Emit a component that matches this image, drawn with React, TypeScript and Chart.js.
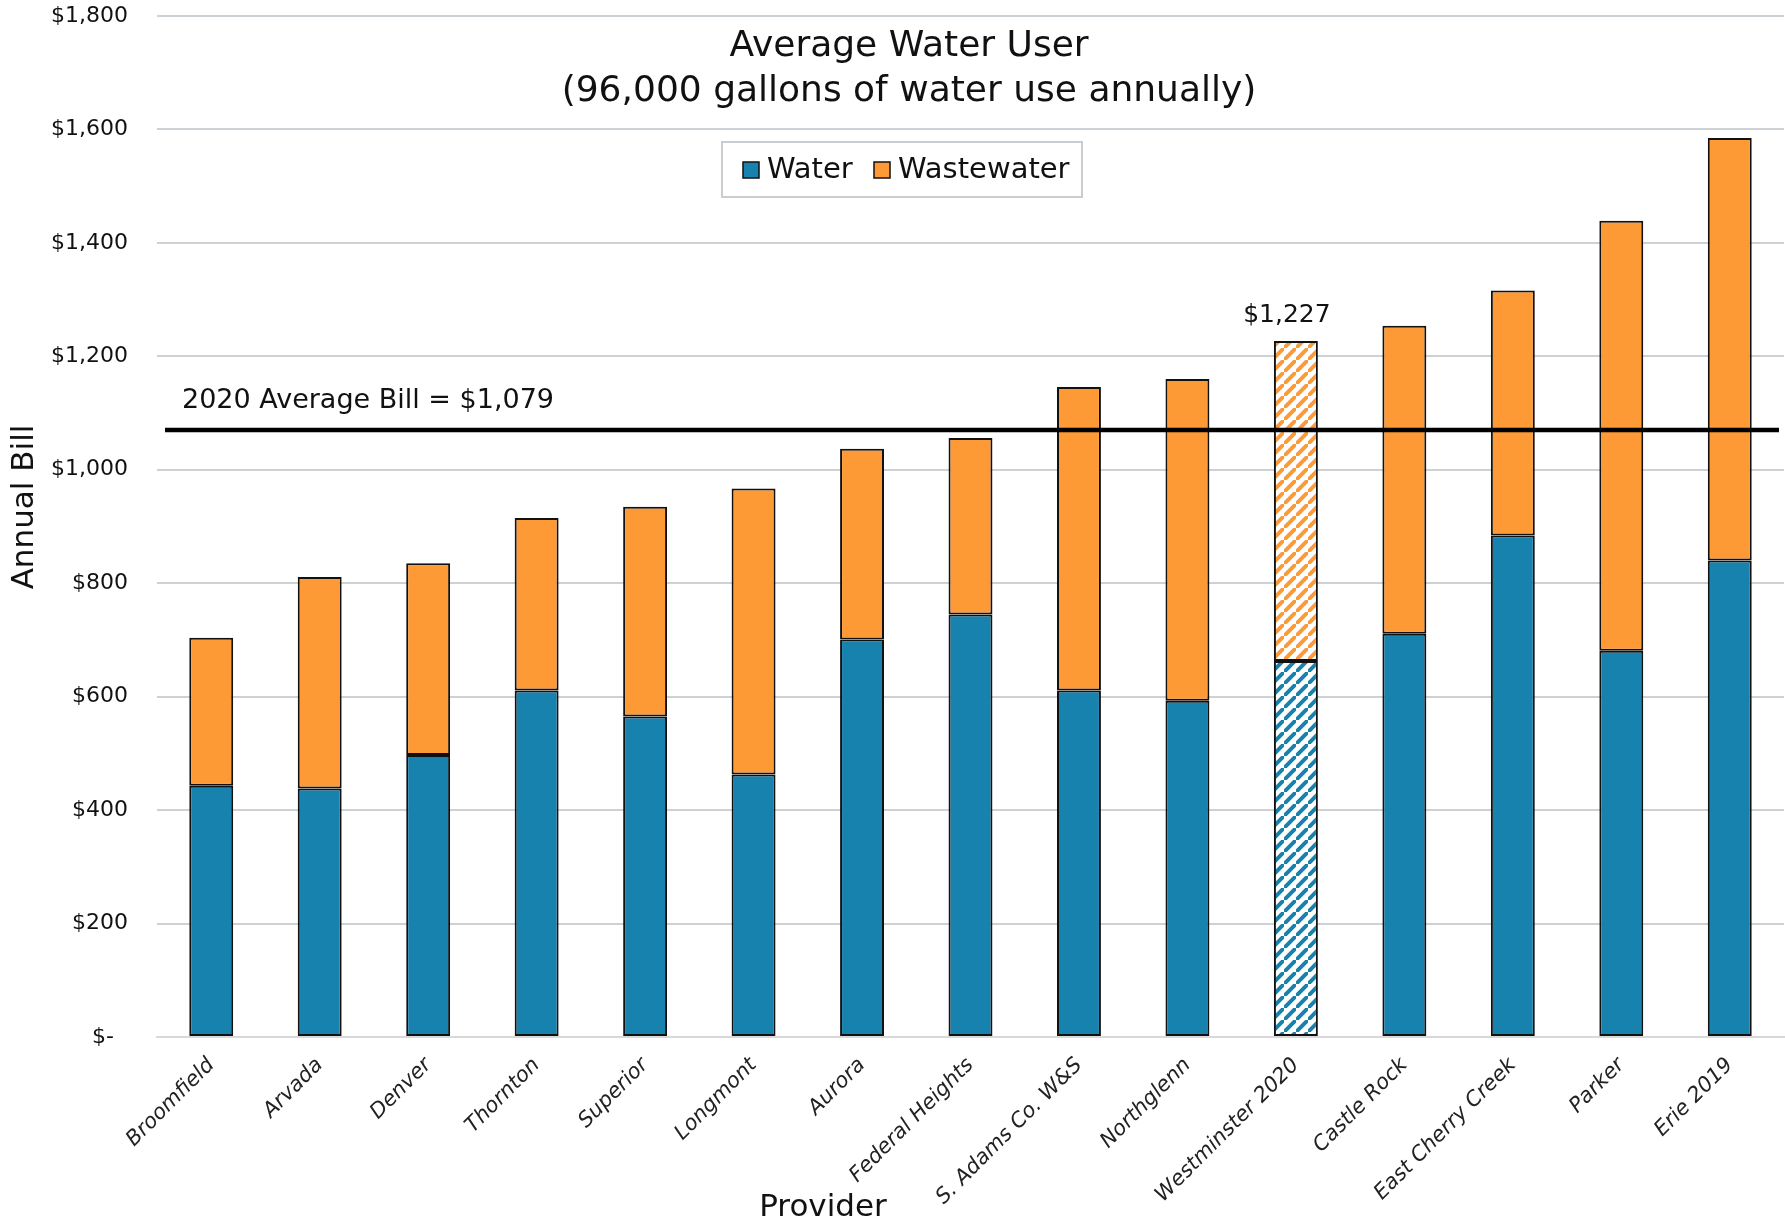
import React, { useEffect, useRef } from "react";
import { Chart, registerables } from "chart.js";

Chart.register(...registerables);

const providers = [
  "Broomfield", "Arvada", "Denver", "Thornton", "Superior", "Longmont", "Aurora",
  "Federal Heights", "S. Adams Co. W&S", "Northglenn", "Westminster 2020",
  "Castle Rock", "East Cherry Creek", "Parker", "Erie 2019",
];
const waterValues = [443, 438, 497, 611, 565, 463, 701, 745, 611, 593, 663, 711, 884, 681, 840];
const wastewaterValues = [261, 373, 338, 304, 370, 504, 336, 311, 535, 567, 564, 543, 432, 758, 745];
const seriesNames = ["Water", "Wastewater"];
const titleLines = ["Average Water User", "(96,000 gallons of water use annually)"];
const averageBillLabel = "2020 Average Bill = $1,079";
const averageLineValue = 1070;
const highlightIndex = 10;
const highlightLabel = "$1,227";
const yTickValues = [0, 200, 400, 600, 800, 1000, 1200, 1400, 1600, 1800];
const xTitle = "Provider";
const yTitle = "Annual Bill";

const BLUE = "#1882AE";
const ORANGE = "#FD9A35";
const FONT = "'DejaVu Sans', sans-serif";

function makeStripePattern(color: string): CanvasPattern | string {
  const size = 12;
  const c = document.createElement("canvas");
  c.width = size;
  c.height = size;
  const ctx = c.getContext("2d");
  if (!ctx) return color;
  ctx.fillStyle = "#ffffff";
  ctx.fillRect(0, 0, size, size);
  ctx.strokeStyle = color;
  ctx.lineWidth = 4;
  ctx.lineCap = "square";
  ctx.beginPath();
  ctx.moveTo(-size, size * 2);
  ctx.lineTo(size * 2, -size);
  ctx.moveTo(-size * 2, size);
  ctx.lineTo(size, -size * 2);
  ctx.moveTo(0, size * 3);
  ctx.lineTo(size * 3, 0);
  ctx.stroke();
  const p = ctx.createPattern(c, "repeat");
  return p || color;
}

export default function App() {
  const canvasRef = useRef<HTMLCanvasElement | null>(null);

  useEffect(() => {
    if (!canvasRef.current) return;
    const bluePattern = makeStripePattern(BLUE);
    const orangePattern = makeStripePattern(ORANGE);
    const waterColors = providers.map((_, i) => (i === highlightIndex ? bluePattern : BLUE));
    const wasteColors = providers.map((_, i) => (i === highlightIndex ? orangePattern : ORANGE));

    const overlay = {
      id: "overlay",
      afterDatasetsDraw(chart: any) {
        const ctx = chart.ctx as CanvasRenderingContext2D;
        const xs = chart.scales.x;
        const ys = chart.scales.y;
        const area = chart.chartArea;
        ctx.save();
        // average line
        const ly = ys.getPixelForValue(averageLineValue);
        ctx.strokeStyle = "#000";
        ctx.lineWidth = 4.5;
        ctx.beginPath();
        ctx.moveTo(area.left + 8, ly);
        ctx.lineTo(area.right - 5, ly);
        ctx.stroke();
        ctx.fillStyle = "#111";
        ctx.textBaseline = "middle";
        ctx.textAlign = "left";
        ctx.font = `27px ${FONT}`;
        ctx.fillText(averageBillLabel, 182, ly - 29);

        // highlight label
        const total = waterValues[highlightIndex] + wastewaterValues[highlightIndex];
        ctx.textAlign = "center";
        ctx.font = `25px ${FONT}`;
        ctx.fillText(highlightLabel, xs.getPixelForValue(highlightIndex) - 9, ys.getPixelForValue(total) - 26);

        // title
        ctx.font = `36px ${FONT}`;
        ctx.fillText(titleLines[0], 909, 47);
        ctx.fillText(titleLines[1], 909, 92);

        // legend
        ctx.fillStyle = "#fff";
        ctx.fillRect(722, 142, 360, 55);
        ctx.strokeStyle = "#c9cdd1";
        ctx.lineWidth = 2;
        ctx.strokeRect(722, 142, 360, 55);
        const items = [
          { sx: 743, tx: 767, color: BLUE, name: seriesNames[0] },
          { sx: 874, tx: 898, color: ORANGE, name: seriesNames[1] },
        ];
        ctx.font = `29px ${FONT}`;
        ctx.textAlign = "left";
        for (const it of items) {
          ctx.fillStyle = it.color;
          ctx.fillRect(it.sx, 162, 16, 16);
          ctx.strokeStyle = "#111";
          ctx.lineWidth = 1.5;
          ctx.strokeRect(it.sx, 162, 16, 16);
          ctx.fillStyle = "#111";
          ctx.fillText(it.name, it.tx, 170);
        }

        // axis titles
        ctx.font = `31px ${FONT}`;
        ctx.textAlign = "center";
        ctx.fillText(xTitle, 823, 1208);
        ctx.translate(25, 507);
        ctx.rotate(-Math.PI / 2);
        ctx.fillText(yTitle, 0, 0);
        ctx.restore();
      },
    };

    const chart = new Chart(canvasRef.current, {
      type: "bar",
      data: {
        labels: providers,
        datasets: [
          {
            label: seriesNames[0],
            data: waterValues,
            backgroundColor: waterColors as any,
            borderColor: "#111",
            borderWidth: 2,
            borderSkipped: false,
            categoryPercentage: 1,
            barPercentage: 0.405,
          },
          {
            label: seriesNames[1],
            data: wastewaterValues,
            backgroundColor: wasteColors as any,
            borderColor: "#111",
            borderWidth: 2,
            borderSkipped: false,
            categoryPercentage: 1,
            barPercentage: 0.405,
          },
        ],
      },
      options: {
        animation: false,
        responsive: true,
        maintainAspectRatio: false,
        layout: { padding: { top: 16, left: 0, right: 1, bottom: 0 } },
        plugins: {
          legend: { display: false },
          title: { display: false },
          tooltip: { enabled: false },
        },
        scales: {
          x: {
            stacked: true,
            grid: { display: false },
            border: { display: true, color: "#d9d9d9", width: 2 },
            ticks: {
              autoSkip: false,
              maxRotation: 45,
              minRotation: 45,
              padding: 8,
              color: "#222",
              font: { family: FONT, size: 21, style: "italic" },
            },
            afterFit(scale: any) {
              scale.height = 191;
            },
          },
          y: {
            stacked: true,
            min: 0,
            max: 1800,
            afterBuildTicks(scale: any) {
              scale.ticks = yTickValues.map((v) => ({ value: v }));
            },
            grid: {
              color: "#ccd1d5",
              lineWidth: 2,
              drawTicks: true,
              tickLength: 29,
              tickColor: "rgba(0,0,0,0)",
            },
            border: { display: false },
            ticks: {
              padding: 0,
              color: "#111",
              font: { family: FONT, size: 22 },
              callback: (v: any) => (Number(v) === 0 ? "$-  " : "$" + Number(v).toLocaleString("en-US")),
            },
            afterFit(scale: any) {
              scale.width = 157;
            },
          },
        },
      },
      plugins: [overlay],
    });
    return () => chart.destroy();
  }, []);

  return (
    <div style={{ position: "absolute", left: 0, top: 0, width: 1785, height: 1228, background: "#fff" }}>
      <canvas ref={canvasRef} />
    </div>
  );
}
